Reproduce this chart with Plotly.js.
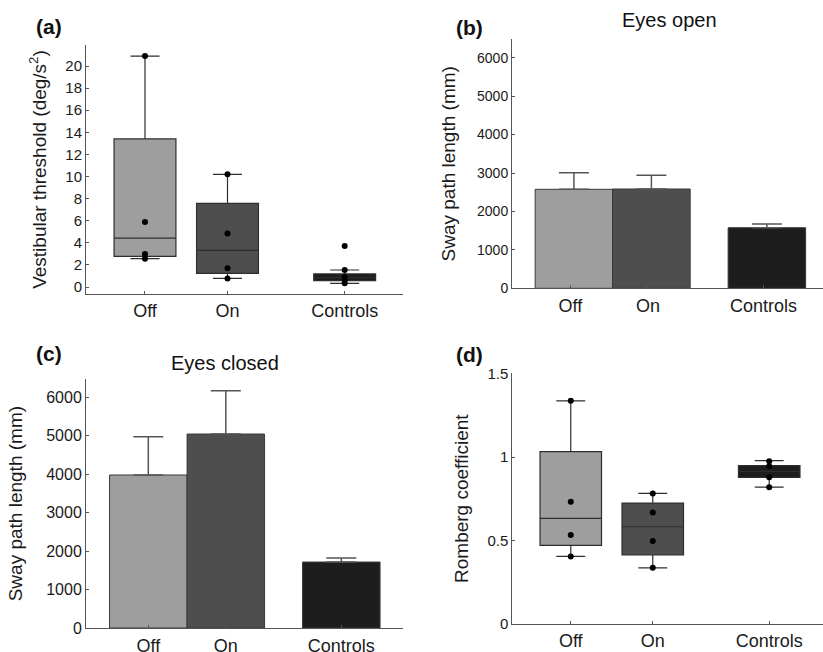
<!DOCTYPE html>
<html>
<head>
<meta charset="utf-8">
<script src="https://cdn.plot.ly/plotly-3.0.1.min.js"></script>
<style>
html,body{margin:0;padding:0;background:#fff;}
#chart{width:823px;height:652px;}
</style>
</head>
<body>
<div id="chart"></div>
<script>
// ---- data ----
const groups = ['Off', 'On', 'Controls'];
const groupColors = ['#9e9e9e', '#4e4e4e', '#1d1d1d'];

// (a) Vestibular threshold (deg/s^2) box stats
const vtLow  = [2.56, 0.78, 0.33];
const vtQ1   = [2.78, 1.24, 0.57];
const vtMed  = [4.43, 3.32, 0.85];
const vtQ3   = [13.4, 7.57, 1.18];
const vtHigh = [20.9, 10.2, 1.54];
const vtOff  = [2.56, 2.98, 5.88, 20.9];
const vtOn   = [0.78, 1.69, 4.85, 10.2];
const vtCtl  = [0.33, 0.6, 0.9, 1.54, 3.71];

// (b) Eyes open sway path length (mm)
const eoMean = [2576, 2584, 1577];
const eoSem  = [432, 356, 96];

// (c) Eyes closed sway path length (mm)
const ecMean = [3979, 5045, 1716];
const ecSem  = [996, 1127, 104];

// (d) Romberg coefficient box stats
const rcLow  = [0.405, 0.337, 0.82];
const rcQ1   = [0.471, 0.415, 0.879];
const rcMed  = [0.633, 0.583, 0.915];
const rcQ3   = [1.034, 0.725, 0.95];
const rcHigh = [1.338, 0.783, 0.98];
const rcOff  = [0.405, 0.533, 0.733, 1.338];
const rcOn   = [0.337, 0.497, 0.669, 0.783];
const rcCtl  = [0.82, 0.88, 0.945, 0.975];

// ---- layout helpers (positions / styles) ----
const boxSlots = [1, 2, 3.42];
const barSlots = [1, 2, 3.49];
const FONT = 'Liberation Sans, Arial, Helvetica, sans-serif';
const W = 823, H = 652;

const traces = [];

function addBoxes(stats, pts, xa, ya, slots) {
  for (let i = 0; i < groups.length; i++) {
    traces.push({
      type: 'box', xaxis: xa, yaxis: ya,
      x: [slots[i]],
      lowerfence: [stats.low[i]], q1: [stats.q1[i]], median: [stats.med[i]],
      q3: [stats.q3[i]], upperfence: [stats.high[i]],
      width: 0.75, whiskerwidth: 0.47,
      fillcolor: groupColors[i],
      line: {color: '#2e2e2e', width: 1.2},
      boxpoints: false, hoverinfo: 'skip', showlegend: false
    });
    traces.push({
      type: 'scatter', mode: 'markers', xaxis: xa, yaxis: ya,
      x: pts[i].map(() => slots[i]), y: pts[i],
      marker: {color: '#000', size: 6},
      hoverinfo: 'skip', showlegend: false
    });
  }
}

function addBars(mean, sem, xa, ya, slots) {
  for (let i = 0; i < groups.length; i++) {
    traces.push({
      type: 'bar', xaxis: xa, yaxis: ya,
      x: [slots[i]], y: [mean[i]], width: 1,
      marker: {color: groupColors[i], line: {color: '#3a3a3a', width: 1}},
      error_y: {type: 'data', symmetric: false, array: [sem[i]], arrayminus: [0],
                color: '#555', thickness: 1.5, width: 15},
      hoverinfo: 'skip', showlegend: false
    });
  }
}

addBoxes({low: vtLow, q1: vtQ1, med: vtMed, q3: vtQ3, high: vtHigh},
         [vtOff, vtOn, vtCtl], 'x', 'y', boxSlots);
addBars(eoMean, eoSem, 'x2', 'y2', barSlots);
addBars(ecMean, ecSem, 'x3', 'y3', barSlots);
addBoxes({low: rcLow, q1: rcQ1, med: rcMed, q3: rcQ3, high: rcHigh},
         [rcOff, rcOn, rcCtl], 'x4', 'y4', boxSlots);

function xAxis(x0, x1, range, tickvals, standoff) {
  return {
    domain: [x0 / W, x1 / W], range: range,
    tickvals: tickvals, ticktext: groups,
    showline: true, linecolor: '#555', linewidth: 1,
    ticks: 'inside', ticklen: 3, tickcolor: '#555',
    showgrid: false, zeroline: false,
    ticklabelstandoff: standoff,
    tickfont: {family: FONT, size: 18, color: '#1a1a1a'},
    fixedrange: true
  };
}
function yAxis(y0, y1, range, tickSize, title, standoff, extra) {
  return Object.assign({
    domain: [1 - y0 / H, 1 - y1 / H], range: range,
    showline: true, linecolor: '#555', linewidth: 1,
    ticks: 'inside', ticklen: 3, tickcolor: '#555',
    showgrid: false, zeroline: false,
    tickfont: {family: FONT, size: tickSize, color: '#1a1a1a'},
    title: {text: title, font: {family: FONT, size: 19, color: '#1a1a1a'}, standoff: standoff},
    fixedrange: true
  }, extra || {});
}

const layout = {
  width: W, height: H,
  margin: {l: 0, r: 0, t: 0, b: 0},
  paper_bgcolor: '#fff', plot_bgcolor: 'rgba(0,0,0,0)',
  barmode: 'overlay', boxmode: 'overlay',
  showlegend: false,
  xaxis:  Object.assign(xAxis(86, 403, [0.285, 4.127], boxSlots, 0), {anchor: 'y'}),
  yaxis:  Object.assign(yAxis(294, 45, [-0.633, 21.9], 15,
            'Vestibular threshold (deg/s<sup>2</sup>)', 13, {dtick: 2, tick0: 0}), {anchor: 'x'}),
  xaxis2: Object.assign(xAxis(512, 823, [0.201, 4.214], barSlots.map(v => v - 0.045), 1), {anchor: 'y2'}),
  yaxis2: Object.assign(yAxis(288.3, 39.3, [0, 6479], 14,
            'Sway path length (mm)', 16, {dtick: 1000, tick0: 0}), {anchor: 'x2'}),
  xaxis3: Object.assign(xAxis(86, 403, [0.196, 4.286], barSlots, 1), {anchor: 'y3'}),
  yaxis3: Object.assign(yAxis(628, 379.3, [0, 6468], 16,
            'Sway path length (mm)', 18, {dtick: 1000, tick0: 0}), {anchor: 'x3'}),
  xaxis4: Object.assign(xAxis(512.3, 823, [0.287, 4.076], boxSlots, 0), {anchor: 'y4'}),
  yaxis4: Object.assign(yAxis(624, 373.3, [0, 1.503], 15,
            'Romberg coefficient', 13, {tickvals: [0, 0.5, 1, 1.5], ticktext: ['0', '0.5', '1', '1.5']}), {anchor: 'x4'}),
  annotations: [
    {text: '<b>(a)</b>', x: 34 / W, y: 1 - 27 / H},
    {text: '<b>(b)</b>', x: 454 / W, y: 1 - 28 / H},
    {text: '<b>(c)</b>', x: 34 / W, y: 1 - 353 / H},
    {text: '<b>(d)</b>', x: 454 / W, y: 1 - 354 / H},
  ].map(a => Object.assign(a, {xref: 'paper', yref: 'paper', xanchor: 'left', yanchor: 'middle',
        showarrow: false, font: {family: FONT, size: 21, color: '#111'}})).concat([
    {text: 'Eyes open', x: 669 / W, y: 1 - 20 / H},
    {text: 'Eyes closed', x: 225 / W, y: 1 - 363 / H}
  ].map(a => Object.assign(a, {xref: 'paper', yref: 'paper', xanchor: 'center', yanchor: 'middle',
        showarrow: false, font: {family: FONT, size: 20, color: '#111'}})))
};

Plotly.newPlot('chart', traces, layout, {staticPlot: true, displayModeBar: false});
</script>
</body>
</html>
